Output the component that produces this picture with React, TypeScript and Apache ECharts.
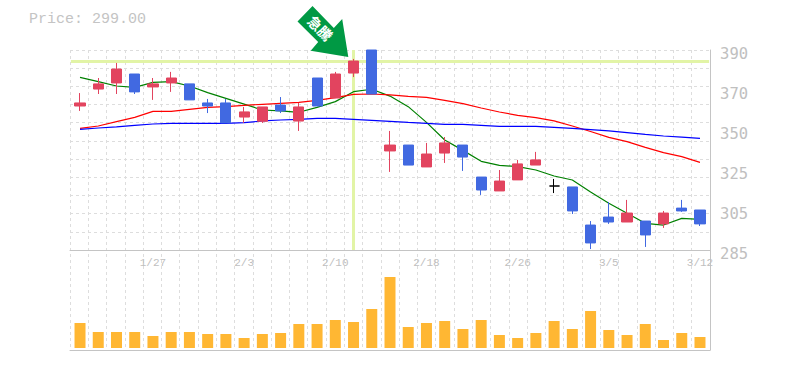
import React, { useEffect, useRef } from "react";
import * as echarts from "echarts";

const dates = ["1/21","1/22","1/23","1/24","1/27","1/28","1/29","1/30","1/31","2/3","2/4","2/5","2/6","2/7","2/10","2/12","2/13","2/14","2/17","2/18","2/19","2/20","2/21","2/25","2/26","2/27","2/28","3/3","3/4","3/5","3/6","3/7","3/10","3/11","3/12"];
// open, close, low, high
const candles = [
  [360.6,362.2,358.0,367.4],[369.5,372.2,366.9,375.3],[372.7,380.0,366.9,383.2],[377.4,368.0,366.9,377.4],[370.6,372.2,363.8,375.3],
  [372.7,375.3,368.0,378.5],[372.2,363.8,363.8,372.2],[362.2,360.6,356.9,364.3],[362.2,351.7,351.7,364.3],[354.8,357.5,351.7,360.1],
  [352.6,360.1,351.7,360.1],[361.1,358.0,356.9,365.3],[352.7,360.1,347.5,362.2],[375.3,360.6,360.6,375.3],[364.8,377.4,364.8,378.5],
  [377.9,384.2,375.8,385.3],[390,366.9,366.9,390],[337.0,340.1,326.0,347.5],[340.1,329.6,329.6,340.1],[328.6,335.4,328.6,341.2],
  [335.9,341.2,330.7,344.3],[340.1,333.8,326.5,340.1],[323.3,316.5,313.9,323.3],[316.0,321.2,316.0,327.0],[321.8,330.2,321.8,332.3],
  [329.6,332.3,329.6,336.5],[318.6,318.6,314.9,322.3],[318.1,305.5,303.9,318.1],[298.1,288.7,285.5,300.2],[302.3,299.7,298.7,310.2],
  [299.7,304.4,299.7,311.3],[300.2,292.9,286.6,300.2],[298.7,304.4,296.6,305.5],[307.0,305.5,305.0,311.3],[306.0,298.7,297.6,306.0],
];
const maShort = [375.65,373.4,371.1,370.4,373.0,373.4,371.1,367.6,364.6,361.6,358.5,358.0,357.3,359.9,362.9,368.1,369.4,365.8,360.25,352.0,342.75,337.3,331.55,329.45,328.75,327.0,323.85,321.75,315.45,309.5,304.25,299.0,298.1,301.6,301.1];
const maMid = [348.9,350.1,352.4,354.65,357.8,357.8,358.85,359.9,360.25,360.95,361.5,362.0,362.5,363.6,365.0,366.7,366.9,366.4,365.7,365.15,363.6,361.85,359.55,357.45,355.7,354.5,352.75,350.1,347.2,344.15,341.9,338.9,336.1,334.0,331.0];
const maLong = [348.35,349.05,349.6,350.45,351.15,351.5,351.5,351.5,351.5,351.85,352.75,353.25,353.6,354.1,354.1,353.6,353.1,352.55,352.0,351.5,351.0,351.0,350.45,349.9,349.9,349.9,349.4,348.9,348.2,347.5,346.6,345.7,344.85,344.3,343.6];
const volumes = [25,16,16,16,12,16,16,14,14,10,14,15,24,24,28,26,39,71,21,25,27,19,28,13,10,15,27,19,37,18,13,24,8,15,11];
const signalDate = "2/12";
const signalPrice = 383.96;
const priceText = "Price: 299.00";
const signalText = "急騰";

const GREY = "#c4c4c4";
const GRID = "#dddddd";
const UP = "#e2445f";
const DOWN = "#4169e1";

export default function App() {
  const ref = useRef<HTMLDivElement>(null);
  useEffect(() => {
    const chart = echarts.init(ref.current!, undefined, { renderer: "svg" });
    const hidden = { axisLine: { show: false }, axisTick: { show: false }, axisLabel: { show: false }, splitLine: { show: false } };
    const dashed = { show: true, lineStyle: { color: GRID, width: 1, type: [3, 3] as any } };
    chart.setOption({
      animation: false,
      backgroundColor: "#fff",
      grid: [
        { left: 70, top: 50, width: 640, height: 300 },
        { left: 70, top: 50, width: 640, height: 200 },
        { left: 70.9, top: 50, width: 638.2, height: 200 },
        { left: 70.9, top: 250, width: 638.2, height: 98 },
      ],
      xAxis: [
        { gridIndex: 0, type: "value", min: 0, max: 35, interval: 1, position: "bottom", axisLine: { show: true, onZero: false, lineStyle: { color: GREY } }, axisTick: { show: false }, axisLabel: { show: false }, splitLine: dashed },
        { gridIndex: 1, type: "value", min: 0, max: 35, interval: 35, position: "bottom", axisLine: { show: true, onZero: false, lineStyle: { color: GREY } }, axisTick: { show: false }, axisLabel: { show: false }, splitLine: { show: false } },
        { gridIndex: 2, type: "category", data: dates, ...hidden },
        {
          gridIndex: 3, type: "category", data: dates, position: "top",
          axisLine: { show: false }, axisTick: { show: false }, splitLine: { show: false },
          axisLabel: { show: true, inside: true, margin: 7, color: "#c0c0c0", fontFamily: "Liberation Mono", fontSize: 11, interval: (i: number) => (i + 1) % 5 === 0 },
        },
      ],
      yAxis: [
        { gridIndex: 0, type: "value", min: 0, max: 1, interval: 1, position: "right", axisLine: { show: true, onZero: false, lineStyle: { color: GREY } }, axisTick: { show: false }, axisLabel: { show: false }, splitLine: { show: false } },
        { gridIndex: 1, type: "value", min: 0, max: 11, interval: 1, axisLine: { show: false }, axisTick: { show: false }, axisLabel: { show: false }, splitLine: dashed },
        {
          gridIndex: 2, type: "value", min: 285, max: 390, interval: 21, position: "right", scale: true,
          axisLine: { show: false }, axisTick: { show: false }, splitLine: { show: false },
          axisLabel: { show: true, margin: 11, color: "#c0c0c0", fontFamily: "DejaVu Sans Mono", fontSize: 15.5, verticalAlign: "top", lineHeight: 7, formatter: (v: number) => String(Math.round(v / 5) * 5) },
        },
        { gridIndex: 3, type: "value", min: 0, max: 98, ...hidden },
      ],
      series: [
        {
          type: "line", xAxisIndex: 2, yAxisIndex: 2, data: [], z: 1, silent: true, symbol: "none",
          markLine: {
            silent: true, symbol: "none", label: { show: false }, z: 1,
            lineStyle: { color: "#e2f4a6", width: 3, type: "solid" },
            data: [{ yAxis: signalPrice }, { xAxis: signalDate }],
          },
        },
        { type: "line", name: "short", xAxisIndex: 2, yAxisIndex: 2, data: maShort, z: 2, symbol: "none", lineStyle: { color: "#008000", width: 1.2 } },
        { type: "line", name: "mid", xAxisIndex: 2, yAxisIndex: 2, data: maMid, z: 2, symbol: "none", lineStyle: { color: "#ff0000", width: 1.2 } },
        { type: "line", name: "long", xAxisIndex: 2, yAxisIndex: 2, data: maLong, z: 2, symbol: "none", lineStyle: { color: "#0000ff", width: 1.2 } },
        {
          type: "candlestick", xAxisIndex: 2, yAxisIndex: 2, data: candles, z: 3, barWidth: 10.6, clip: true,
          itemStyle: { color: UP, color0: DOWN, borderColor: UP, borderColor0: DOWN, borderColorDoji: "#000", borderWidth: 1 },
        },
        { type: "bar", xAxisIndex: 3, yAxisIndex: 3, data: volumes, barWidth: 11, itemStyle: { color: "#ffb733" }, z: 3 },
      ],
      graphic: [
        { type: "text", left: 29, top: 12, silent: true, style: { text: priceText, fill: "#c4c4c4", font: "15px 'Liberation Mono'" } },
        {
          type: "polygon", silent: true, z: 10,
          shape: { points: [[312.5, 6], [297.5, 21.5], [318.2, 42], [310.7, 50.7], [348.3, 57], [342.2, 19], [333.8, 28]] },
          style: { fill: "#009944" },
        },
        {
          type: "text", silent: true, z: 11, x: 320.5, y: 28, rotation: -Math.PI / 4,
          style: { text: signalText, fill: "#fff", font: "bold 14px 'Noto Sans CJK JP'", align: "center", verticalAlign: "middle" },
        },
      ],
    });
    return () => chart.dispose();
  }, []);
  return <div ref={ref} style={{ position: "absolute", left: 0, top: 0, width: 785, height: 370 }} />;
}
